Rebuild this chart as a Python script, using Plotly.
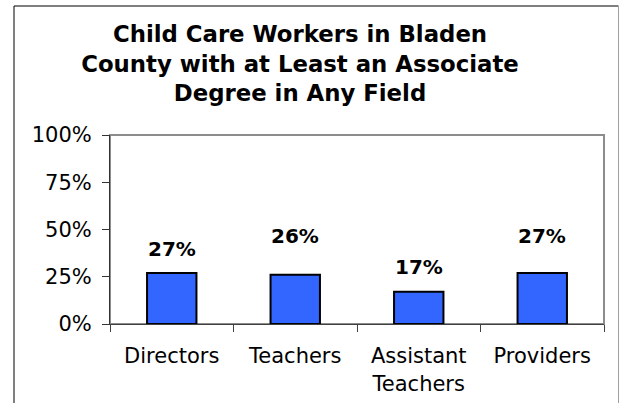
import plotly.graph_objects as go

categories = ["Directors", "Teachers", "Assistant<br>Teachers", "Providers"]
values = [27, 26, 17, 27]
y_tick_vals = [0, 25, 50, 75, 100]
y_tick_text = ["0%", "25%", "50%", "75%", "100%"]
title_text = "Child Care Workers in Bladen<br>County with at Least an Associate<br>Degree in Any Field"

# label vertical offsets (px above bar top) — style only
label_shift = [24, 39, 25, 37]

FONT = "DejaVu Sans, sans-serif"

fig = go.Figure()
fig.add_trace(go.Bar(
    x=categories, y=values, width=0.4,
    marker=dict(color="#3366FF", line=dict(color="#000000", width=2)),
    hoverinfo="skip",
))

for c, v, s in zip(categories, values, label_shift):
    fig.add_annotation(x=c, y=v, text=f"<b>{v}%</b>", showarrow=False,
                       yanchor="middle", yshift=s,
                       font=dict(family=FONT, size=20, color="#000000"))

W, H = 620, 403
L, R, T, B = 110, 16, 135, 79
pw, ph = W - L - R, H - T - B

def px_x(p):
    return (p - L) / pw

def px_y(p):
    return (H - B - p) / ph

# outer chart frame: left and top black, right light gray (bottom off-image)
fig.add_shape(type="path", xref="paper", yref="paper",
              path=f"M {px_x(14)},{px_y(420)} L {px_x(14)},{px_y(6)} L {px_x(618.5)},{px_y(6)}",
              line=dict(color="#000000", width=1), layer="below")
fig.add_shape(type="line", xref="paper", yref="paper",
              x0=px_x(618.5), x1=px_x(618.5), y0=px_y(6), y1=px_y(420),
              line=dict(color="#A0A0A0", width=1), layer="below")
# plot area border (top/right gray)
fig.add_shape(type="rect", xref="paper", yref="paper", x0=0, x1=1, y0=0, y1=1,
              line=dict(color="#8C8C8C", width=2), fillcolor="rgba(0,0,0,0)", layer="below")

fig.update_layout(
    width=W, height=H,
    margin=dict(l=L, r=R, t=T, b=B),
    paper_bgcolor="#FFFFFF", plot_bgcolor="#FFFFFF",
    showlegend=False,
    font=dict(family=FONT, color="#000000"),
    title=dict(text=f"<b>{title_text}</b>", xref="container", yref="container",
               x=300 / W, xanchor="center", y=1 - 42 / H, yanchor="top",
               font=dict(family=FONT, size=22.8, color="#000000")),
    bargap=0.6,
)
fig.update_xaxes(
    type="category", showline=True, linecolor="#404040", linewidth=1,
    ticks="outside", tickson="boundaries", ticklen=7, tickcolor="#404040",
    tickfont=dict(family=FONT, size=21, color="#000000"),
    ticklabelstandoff=13, automargin=False,
    showgrid=False, zeroline=False, fixedrange=True,
)
fig.update_yaxes(
    range=[0, 100], tickvals=y_tick_vals, ticktext=y_tick_text,
    showline=True, linecolor="#333333", linewidth=1,
    ticks="outside", ticklen=7, tickcolor="#333333",
    tickfont=dict(family=FONT, size=21, color="#000000"),
    ticklabelstandoff=6, automargin=False,
    showgrid=False, zeroline=False, fixedrange=True,
)

fig.write_html("out.html", config={"displayModeBar": False},
               post_script="document.body.style.margin='0';document.body.style.overflow='hidden';")
